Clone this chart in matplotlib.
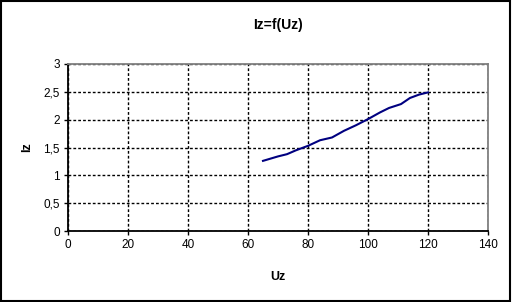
import matplotlib
matplotlib.use("Agg")
import matplotlib.pyplot as plt
from matplotlib.patches import Rectangle

uz = [65, 70, 73, 76, 80, 84, 88, 92, 96, 100, 104, 107, 111, 114, 117, 120]
iz = [1.26, 1.34, 1.38, 1.45, 1.53, 1.63, 1.68, 1.80, 1.90, 2.01, 2.13, 2.21, 2.28, 2.39, 2.45, 2.49]
xticks = [0, 20, 40, 60, 80, 100, 120, 140]
yticks = [0, 0.5, 1, 1.5, 2, 2.5, 3]
ylabels = ["0", "0,5", "1", "1,5", "2", "2,5", "3"]

plt.rcParams['font.family'] = ['Liberation Sans', 'DejaVu Sans']
fig = plt.figure(figsize=(5.12, 3.02), dpi=100)
fig.patches.append(Rectangle((0.002, 0.003), 0.995, 0.993, transform=fig.transFigure,
                             fill=False, edgecolor='black', linewidth=1.5))
ax = fig.add_axes([68/512, 1-231/302, (488-68)/512, (231-64)/302])
ax.plot(uz, iz, color='#000080', linewidth=1.5)
ax.set_xlim(0, 140)
ax.set_ylim(0, 3)
ax.set_xticks(xticks)
ax.set_yticks(yticks)
ax.set_yticklabels(ylabels)
ax.tick_params(axis='both', labelsize=8.5, direction='out', length=3, width=1, pad=3)
ax.grid(True, color='black', linestyle=(0, (2, 1.5)), linewidth=1)
for s in ['left', 'bottom']:
    ax.spines[s].set_color('black')
    ax.spines[s].set_linewidth(1.3)
for s in ['top', 'right']:
    ax.spines[s].set_color('#808080')
    ax.spines[s].set_linewidth(1.3)
ax.set_title('Iz=f(Uz)', fontsize=10, fontweight='bold', pad=25)
ax.set_xlabel('Uz', fontsize=9, fontweight='bold', labelpad=14)
ax.set_ylabel('Iz', fontsize=9, fontweight='bold', labelpad=7)
fig.savefig('out.png', dpi=100)
